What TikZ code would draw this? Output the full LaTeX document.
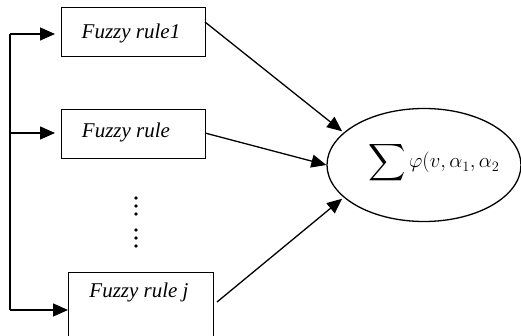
\documentclass[tikz,border=0pt]{standalone}
\usepackage{amsmath}
\usepackage{graphicx}
\usepackage{fontspec}
\setmainfont{Liberation Serif}
\usetikzlibrary{arrows.meta,shapes.geometric}
\begin{document}
\begin{tikzpicture}[x=1pt,y=-1pt,
  box/.style={draw,line width=1.3pt,minimum width=144pt,inner sep=0pt,anchor=north west},
  lbl/.style={font=\fontsize{21}{24}\selectfont\itshape,inner sep=0pt},
  arr/.style={line width=1.3pt,-{Triangle[length=15pt,width=13pt]}},
  ln/.style={line width=1.3pt}]
\useasboundingbox (0,0) rectangle (521,336);
% boxes
\node[box,minimum height=49pt] (b1) at (61,7) {};
\node[box,minimum height=49pt] (b2) at (61,109) {};
\node[box,minimum height=76pt,minimum width=145pt] (b3) at (68,272) {};
\node[lbl] (t1) at (131,33) {Fuzzy rule1};
\node[lbl] (t2) at (126,132) {Fuzzy rule};
\node[lbl] (t3) at (139,292) {Fuzzy rule j};
% dots
\foreach \yy [count=\i] in {198,206,214,230,238,246}
  \fill (136,\yy) circle (1.8pt) coordinate (d\i);
% ellipse
\node[draw,ellipse,line width=1.3pt,minimum width=194pt,minimum height=113pt,inner sep=0pt] (e) at (424,165) {};
\begin{scope}
\clip (327,100) rectangle (505,230);
\node[anchor=base west,inner sep=0pt,font=\fontsize{22}{26}\selectfont] (s) at (368,168) {$\vcenter{\hbox{\scalebox{1.25}{$\displaystyle\sum$}}}\,\varphi(v,\alpha_1,\alpha_2$};
\end{scope}
% left feeder
\coordinate (top) at (10,34);
\coordinate (mid) at (10,133);
\coordinate (bot) at (10,310);
\coordinate (a1) at (55,34);
\coordinate (a2) at (55,133);
\draw[ln] (top) -- (bot);
\draw[arr] (top) -- (a1);
\draw[arr] (mid) -- (a2);
\draw[arr] (bot) -- (b3.west |- bot);
% to sum
\coordinate (s1) at (205,22);
\coordinate (s2) at (205,133);
\coordinate (s3) at (217,302);
\draw[arr,shorten >=2pt] (s1) -- (e.158);
\draw[arr] (s2) -- (e.180);
\draw[arr,shorten >=2pt] (s3) -- (e.202);
\end{tikzpicture}
\end{document}
